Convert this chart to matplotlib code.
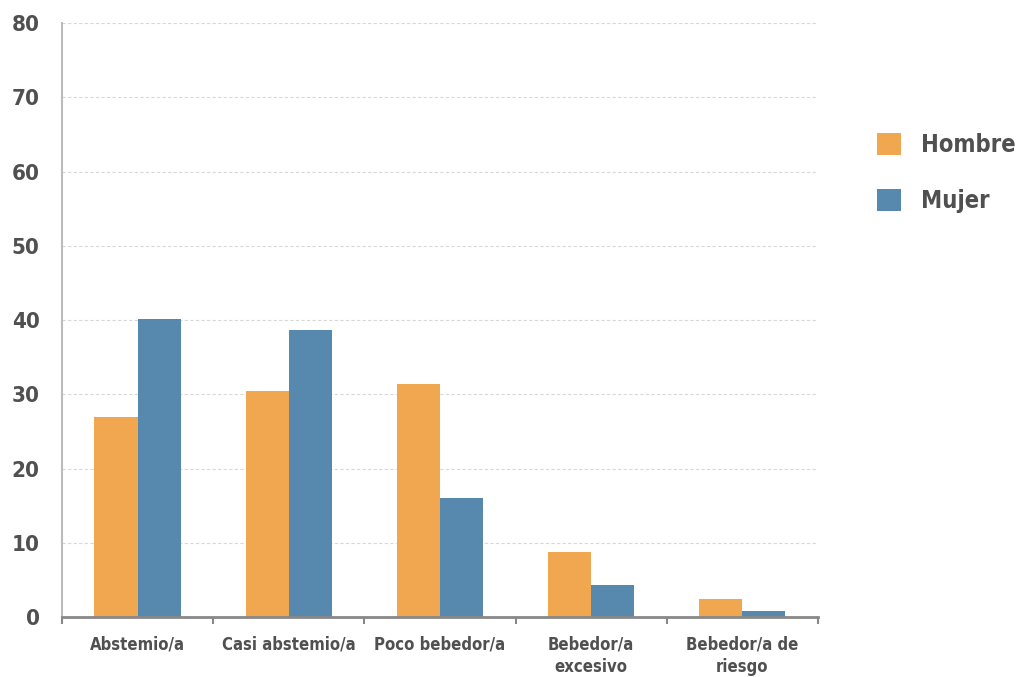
import numpy as np
import matplotlib.pyplot as plt

categorias = ['Abstemio/a', 'Casi abstemio/a', 'Poco bebedor/a',
              'Bebedor/a\nexcesivo', 'Bebedor/a de\nriesgo']
hombre = [27.0, 30.5, 31.4, 8.8, 2.4]
mujer = [40.2, 38.7, 16.0, 4.3, 0.8]
yticks = [0, 10, 20, 30, 40, 50, 60, 70, 80]

plt.rcParams['font.family'] = ['DejaVu Sans']
plt.rcParams['font.stretch'] = 'condensed'

col_h = '#F0A74F'
col_m = '#5788AD'
txt = '#505050'

fig = plt.figure(figsize=(10.16, 6.77), dpi=100)
ax = fig.add_axes([0.061, 0.0886, 0.744, 0.8774])

x = np.arange(len(categorias))
w = 0.285
ax.bar(x - w/2, hombre, w, color=col_h, label='Hombre', zorder=3)
ax.bar(x + w/2, mujer, w, color=col_m, label='Mujer', zorder=3)

ax.set_xlim(-0.5, len(categorias) - 0.5)
ax.set_ylim(0, 80)
ax.set_yticks(yticks)
ax.set_yticklabels([str(v) for v in yticks], fontsize=16, fontweight='bold', color=txt)
ax.yaxis.grid(True, color='#d8d8d8', linestyle=(0, (3, 2)), linewidth=0.8, zorder=0)
ax.tick_params(axis='y', length=0, pad=16)

# category ticks between groups
ax.set_xticks(np.arange(-0.5, len(categorias)), minor=False)
ax.set_xticklabels([])
ax.set_xticks(x, minor=True)
ax.set_xticklabels(categorias, minor=True, fontsize=12, fontweight='bold', color=txt,
                   linespacing=1.35)
ax.tick_params(axis='x', which='major', length=5, color='#888888', width=1.5)
ax.tick_params(axis='x', which='minor', length=0, pad=13)

for s in ['top', 'right']:
    ax.spines[s].set_visible(False)
ax.spines['left'].set_color('#bbbbbb')
ax.spines['left'].set_linewidth(1.5)
ax.spines['bottom'].set_color('#888888')
ax.spines['bottom'].set_linewidth(2)
ax.spines['bottom'].set_zorder(4)

leg = fig.legend(loc='upper left', bbox_to_anchor=(0.863, 0.803), frameon=False,
                 borderpad=0, borderaxespad=0,
                 prop={'family': 'DejaVu Sans', 'stretch': 'condensed', 'weight': 'bold', 'size': 17},
                 handlelength=1.02, handleheight=1.05, labelspacing=1.35, handletextpad=0.85)
for t in leg.get_texts():
    t.set_color(txt)

fig.savefig('out.png', dpi=100)
